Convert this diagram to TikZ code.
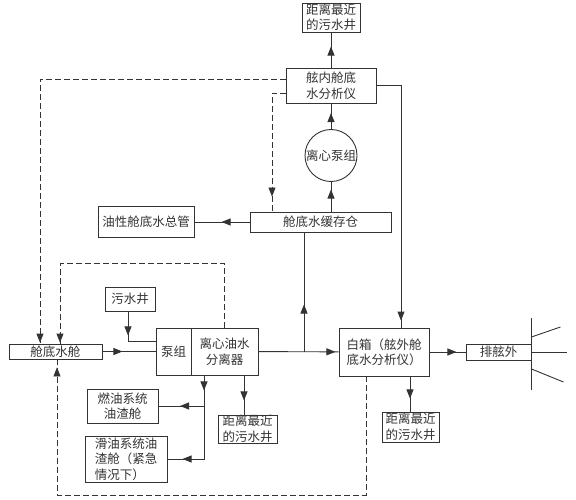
\documentclass[tikz,border=0pt]{standalone}
\usepackage{fontspec}
\newfontfamily\cjk{Noto Sans CJK SC}
\usetikzlibrary{arrows.meta}
\usetikzlibrary{decorations.markings}
\newcommand{\flowtip}{\pgfsetdash{}{0pt}\arrow{Triangle[width=7pt,length=9pt]}}

\begin{document}
\begin{tikzpicture}[
    x=1pt, y=-1pt,
    color=black!80, line width=0.9pt,
    box/.style={draw, inner sep=0pt, align=center, font=\cjk\fontsize{12.5}{15.5}\selectfont},
    dims/.style 2 args={minimum width=#1pt, minimum height=#2pt},
    flow/.style={postaction={decorate}, decoration={markings, mark=at position #1 with {\flowtip}}},
    flow2/.style 2 args={postaction={decorate}, decoration={markings,
        mark=at position #1 with {\flowtip}, mark=at position #2 with {\flowtip}}},
    back/.style={dash pattern=on 6pt off 3pt}
    ]
\useasboundingbox (0,0) rectangle (576,500);

\node[box, dims={58}{29}] (topWell) at (331,17.5) {距离最近\\的污水井};
\node[box, dims={90}{35}] (inAna) at (331,85.5) {舷内舱底\\水分析仪};
\node[box, circle, minimum size=52pt] (pumpC) at (331,155.5) {离心泵组};
\node[box, dims={141}{20}] (buffer) at (320.5,222) {舱底水缓存仓};
\node[box, dims={96}{31}] (oilMain) at (146,221.5) {油性舱底水总管};
\node[box, dims={93}{15}] (bilge) at (55.5,351.5) {舱底水舱};
\node[box, dims={50}{24}] (sewage) at (130,299) {污水井};
\node[box, dims={35}{47}] (pumpSet) at (173.5,351.5) {泵组};
\node[box, dims={67}{47}] (separator) at (224.5,351.5) {离心油水\\分离器};
\node[box, dims={71}{34}] (fuel) at (122.5,406) {燃油系统\\油渣舱};
\node[box, dims={82}{46}, align=left] (lube) at (126,459) {滑油系统油\\渣舱（紧急\\情况下）};
\node[box, dims={59}{28}] (midWell) at (247.5,429) {距离最近\\的污水井};
\node[box, dims={90}{48}] (whiteBox) at (384,352) {白箱（舷外舱\\底水分析仪）};
\node[box, dims={57}{30}] (rightWell) at (410.5,427) {距离最近\\的污水井};
\node[box, dims={65}{16}] (outboard) at (498.5,352) {排舷外};

% upper loop
\draw[flow=21pt] (inAna) -- (topWell);
\draw[flow=22pt] (buffer.north -| pumpC) -- (pumpC);
\draw[flow=16pt] (pumpC) -- (inAna);
\draw[back, flow=-1pt] ([yshift=6.5pt]inAna.west) -| ([xshift=-15.5pt]bilge.north);
\draw[back, flow=-15pt] ([yshift=-7.5pt]inAna.west) -| ([xshift=-48.5pt]buffer.north);
\draw[flow=-7pt] (inAna.east) -| ([xshift=17pt]whiteBox.north);
\draw[flow=28pt] (buffer.west) -- (buffer.west -| oilMain.east);

% separator
\coordinate (junc) at ([xshift=-16.5pt]buffer.south |- separator.east);
\draw[flow=47pt] (junc) -- ([xshift=-16.5pt]buffer.south);
\draw[back, flow=-1pt] (separator.north) -- ++(0,-64) -| ([xshift=4.5pt]bilge.north);
\draw[flow=20pt] (bilge) -- (pumpSet);
\draw[flow=24pt] ([xshift=-2pt]sewage.south) |- ([yshift=10.5pt]pumpSet.west);
\draw[flow2={15pt}{105pt}] ([xshift=-20.5pt]separator.south) |- (lube.east);
\draw[flow=24pt] ([xshift=-20.5pt]separator.south |- fuel.east) -- (fuel.east);
\draw[flow=25pt] ([xshift=19.5pt]separator.south) -- ([xshift=19.5pt]separator.south |- midWell.north);
\draw[flow=77pt] (separator) -- (whiteBox);

% white box
\draw[back, flow=-8pt] ([xshift=-18pt]whiteBox.south) -- ++(0,119) -| ([xshift=1.5pt]bilge.south);
\draw[flow=27pt] (whiteBox) -- (outboard);
\draw[flow=22pt] ([xshift=26pt]whiteBox.south) -- ([xshift=26pt]whiteBox.south |- rightWell.north);

% outlet
\draw ([yshift=34pt]outboard.east) -- ([yshift=-38pt]outboard.east);
\draw ([yshift=15pt]outboard.east) -- ++(29,-10);
\draw (outboard.east) -- ++(36,0);
\draw ([yshift=-17pt]outboard.east) -- ++(32,13);
\end{tikzpicture}
\end{document}
